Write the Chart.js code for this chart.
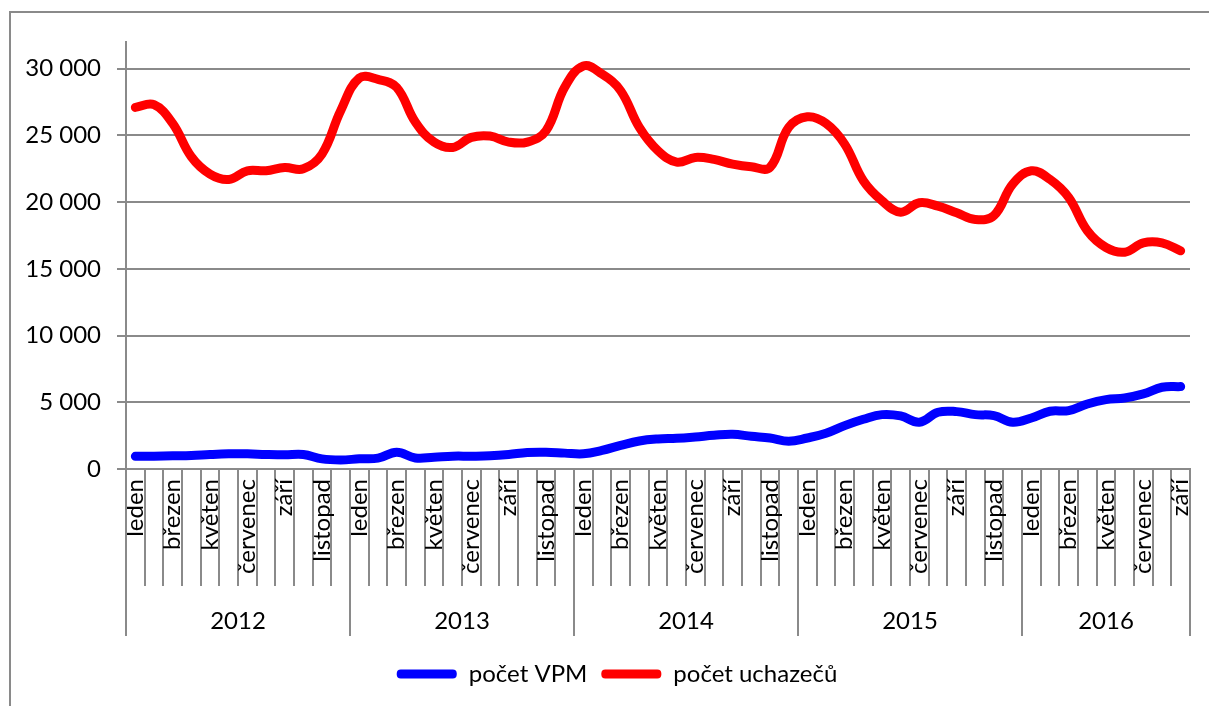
<!DOCTYPE html>
<html>
<head>
<meta charset="utf-8">
<title>Počet VPM a počet uchazečů</title>
<script src="https://cdn.jsdelivr.net/npm/chart.js"></script>
<style>
    body { margin: 0; overflow: hidden; background: #fff; }
    /* chart frame, cut off by the window on the right and bottom */
    #frame { position: absolute; left: 9px; top: 11px; width: 1300px; height: 800px; border: 2px solid #8a8a8a; }
    #wrap { position: absolute; left: 0; top: 0; width: 1209px; height: 706px; }
</style>
</head>
<body>
<div id="frame"></div>
<div id="wrap"><canvas id="myChart"></canvas></div>

<script>
    const years = ['2012', '2013', '2014', '2015', '2016'];
    const months = ['leden', 'únor', 'březen', 'duben', 'květen', 'červen',
                    'červenec', 'srpen', 'září', 'říjen', 'listopad', 'prosinec'];

    // monthly values, leden 2012 .. září 2016
    const vpm = [
        950, 960, 985, 1010, 1085, 1135, 1135, 1085, 1060, 1085, 760, 680,
        760, 810, 1260, 830, 885, 960, 960, 985, 1085, 1240, 1260, 1190,
        1135, 1390, 1770, 2100, 2250, 2300, 2400, 2525, 2600, 2450, 2325, 2075,
        2325, 2675, 3250, 3725, 4075, 3975, 3500, 4250, 4300, 4075, 4000, 3500,
        3825, 4325, 4375, 4875, 5200, 5325, 5625, 6125, 6175
    ];
    const uchazeci = [
        27100, 27300, 25900, 23400, 22100, 21700, 22350, 22350, 22600, 22500, 23600, 26850,
        29300, 29200, 28600, 26000, 24500, 24100, 24850, 24950, 24500, 24500, 25350, 28600,
        30200, 29600, 28350, 25600, 23850, 23000, 23350, 23200, 22850, 22650, 22600, 25600,
        26400, 25900, 24350, 21600, 20100, 19250, 19950, 19700, 19200, 18700, 19000, 21350,
        22350, 21700, 20350, 17850, 16600, 16250, 16950, 16950, 16350
    ];
    const yTicks = [0, 5000, 10000, 15000, 20000, 25000, 30000];

    const labels = vpm.map((v, i) => months[i % 12]);
    const gridColor = '#8a8a8a';
    const font = { family: 'Lato', size: 24 };

    function fmt(v) {
        return String(v).replace(/\B(?=(\d{3})+(?!\d))/g, ' ');
    }

    // second row of the category axis: year dividers and year names
    const yearAxis = {
        id: 'yearAxis',
        afterLayout(chart) {
            // legend sits a bit right of the canvas centre
            chart.legend.left += 22;
            chart.legend.right += 22;
        },
        afterDraw(chart) {
            const x = chart.scales.x;
            const ctx = chart.ctx;
            const top = x.top;
            ctx.save();
            ctx.strokeStyle = gridColor;
            ctx.lineWidth = 2;
            ctx.fillStyle = '#000';
            ctx.font = '24px Lato';
            ctx.textAlign = 'center';
            ctx.textBaseline = 'middle';
            years.forEach((yr, k) => {
                const first = k * 12;
                const last = Math.min(first + 11, labels.length - 1);
                const x0 = x.getPixelForValue(first - 0.5);
                const x1 = x.getPixelForValue(last + 0.5);
                ctx.beginPath();
                ctx.moveTo(x0, top);
                ctx.lineTo(x0, top + 167);
                if (last === labels.length - 1) {
                    ctx.moveTo(x1, top);
                    ctx.lineTo(x1, top + 167);
                }
                ctx.stroke();
                ctx.fillText(yr, (x0 + x1) / 2, top + 152);
            });
            ctx.restore();
        }
    };

    const config = {
        type: 'line',
        data: {
            labels: labels,
            datasets: [{
                label: 'počet VPM',
                data: vpm,
                borderColor: '#0000ff',
                backgroundColor: '#0000ff',
                borderWidth: 9,
                pointRadius: 0,
                tension: 0.4,
                borderCapStyle: 'round',
                borderJoinStyle: 'round'
            }, {
                label: 'počet uchazečů',
                data: uchazeci,
                borderColor: '#ff0000',
                backgroundColor: '#ff0000',
                borderWidth: 9,
                pointRadius: 0,
                tension: 0.4,
                borderCapStyle: 'round',
                borderJoinStyle: 'round'
            }]
        },
        options: {
            responsive: true,
            maintainAspectRatio: false,
            animation: false,
            layout: { padding: { left: 0, right: 19, top: 42, bottom: 10 } },
            scales: {
                x: {
                    offset: true,
                    afterFit: s => { s.height = 179; },
                    grid: { offset: true, drawOnChartArea: false, drawTicks: true, tickLength: 117, color: gridColor, lineWidth: 2 },
                    border: { display: true, color: gridColor, width: 2 },
                    ticks: {
                        autoSkip: false, maxRotation: 90, minRotation: 90, padding: -107,
                        color: '#000', font: font,
                        callback: (v, i) => i % 2 === 0 ? labels[i] : ''
                    }
                },
                y: {
                    min: 0,
                    max: 32000,
                    afterBuildTicks: s => { s.ticks = yTicks.map(v => ({ value: v })); },
                    afterFit: s => { s.width = 126; },
                    grid: { color: gridColor, lineWidth: 2, tickLength: 9 },
                    border: { display: true, color: gridColor, width: 2 },
                    ticks: { padding: 16, color: '#000', font: font, callback: v => fmt(v) }
                }
            },
            plugins: {
                tooltip: { enabled: false },
                legend: {
                    position: 'bottom',
                    labels: {
                        color: '#000',
                        font: font,
                        boxWidth: 60,
                        boxHeight: 9,
                        padding: 14,
                        useBorderRadius: true,
                        borderRadius: 4,
                        generateLabels: function(chart) {
                            return chart.data.datasets.map((d, i) => ({
                                text: d.label,
                                fillStyle: d.borderColor,
                                strokeStyle: d.borderColor,
                                lineWidth: 0,
                                hidden: false,
                                borderRadius: 4,
                                datasetIndex: i,
                                fontColor: '#000'
                            }));
                        }
                    }
                }
            }
        },
        plugins: [yearAxis]
    };

    window.onload = function() {
        const ctx = document.getElementById('myChart').getContext('2d');
        new Chart(ctx, config);
    };
</script>
</body>
</html>
